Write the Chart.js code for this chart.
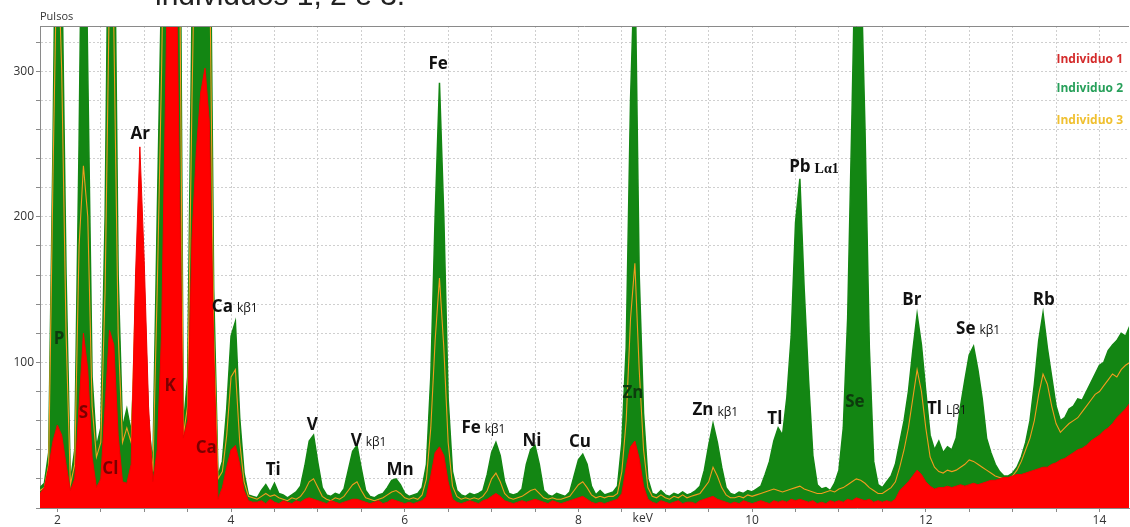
<!DOCTYPE html>
<html lang="pt">
<head>
<meta charset="UTF-8">
<title>Espectro XRF - Individuos 1, 2 e 3</title>
<style>
  body { margin: 0; background: #fff; overflow: hidden; }
  .wrap { position: relative; width: 1130px; height: 527px; }
  #caption { position: absolute; left: 155px; top: -22px; font: 30px "Liberation Sans", Arial, sans-serif; color: #222; white-space: nowrap; }
  canvas { position: absolute; left: 0; top: 0; }
</style>
</head>
<body>
<div class="wrap">
  <canvas id="spectrum" width="1130" height="527"></canvas>
  <div id="caption">individuos 1, 2 e 3.</div>
</div>

<script src="https://cdn.jsdelivr.net/npm/chart.js@4.4.0/dist/chart.umd.min.js"></script>
<script>
// channel grid of the spectrum (keV)
const kevStart = 1.8;
const kevStep = 0.05;

// counts, one row = 0.5 keV
const individuo2 = [
  14, 17, 38, 250, 520, 380, 160, 18, 40, 250,      // 1.80
  520, 300, 90, 42, 55, 200, 480, 450, 160, 55,     // 2.30
  68, 52, 115, 205, 150, 58, 30, 200, 360, 600,     // 2.80
  680, 650, 560, 55, 90, 340, 550, 650, 620, 480,   // 3.30
  150, 22, 32, 68, 118, 128, 62, 24, 9, 8,          // 3.80
  7, 12, 16, 11, 17, 10, 9, 7, 9, 11,               // 4.30
  15, 29, 46, 50, 31, 14, 9, 8, 10, 9,              // 4.80
  13, 26, 39, 43, 27, 12, 8, 7, 9, 10,              // 5.30
  14, 19, 20, 16, 10, 8, 9, 10, 14, 30,             // 5.80
  90, 200, 292, 200, 75, 25, 12, 9, 8, 10,          // 6.30
  9, 10, 12, 23, 38, 45, 36, 18, 10, 9,             // 6.80
  10, 13, 30, 40, 43, 30, 12, 9, 8, 10,             // 7.30
  9, 8, 11, 22, 33, 37, 30, 15, 9, 12,              // 7.80
  9, 10, 11, 15, 45, 110, 280, 380, 160, 65,        // 8.30
  20, 10, 9, 12, 9, 8, 10, 9, 11, 9,                // 8.80
  10, 12, 15, 26, 43, 58, 45, 28, 14, 10,           // 9.30
  9, 11, 10, 12, 11, 13, 15, 23, 32, 46,            // 9.80
  55, 50, 76, 118, 196, 226, 150, 88, 36, 16,       // 10.30
  13, 14, 12, 17, 26, 55, 130, 270, 420, 380,       // 10.80
  260, 110, 32, 16, 14, 18, 22, 30, 45, 60,         // 11.30
  80, 108, 133, 112, 80, 50, 40, 46, 38, 42,        // 11.80
  40, 48, 70, 88, 105, 111, 95, 75, 48, 38,         // 12.30
  30, 25, 22, 22, 24, 28, 35, 45, 60, 85,           // 12.80
  115, 134, 110, 90, 70, 60, 62, 68, 70, 75,        // 13.30
  74, 80, 86, 92, 98, 100, 108, 112, 115, 120,      // 13.80
  118, 125                                          // 14.30
];

const individuo3 = [
  12, 14, 30, 230, 400, 300, 120, 16, 30, 180,
  235, 200, 70, 35, 45, 150, 360, 330, 120, 45,
  55, 45, 150, 220, 150, 55, 25, 150, 300, 500,
  560, 520, 440, 50, 70, 280, 450, 560, 520, 400,
  120, 20, 25, 50, 90, 95, 45, 18, 8, 7,
  6, 8, 10, 8, 9, 7, 6, 5, 7, 6,
  8, 12, 18, 20, 14, 8, 6, 5, 7, 6,
  8, 12, 16, 18, 12, 7, 6, 5, 6, 7,
  9, 11, 12, 10, 7, 6, 7, 6, 9, 20,
  55, 115, 158, 110, 45, 15, 8, 6, 7, 6,
  7, 6, 8, 12, 20, 24, 18, 10, 7, 6,
  7, 8, 10, 12, 13, 10, 7, 6, 7, 6,
  6, 7, 8, 12, 16, 18, 14, 9, 7, 8,
  7, 8, 8, 10, 25, 60, 130, 168, 95, 40,
  14, 8, 7, 9, 7, 6, 8, 7, 9, 7,
  8, 9, 10, 14, 18, 28, 22, 14, 9, 7,
  7, 8, 7, 9, 8, 9, 10, 11, 12, 13,
  12, 11, 12, 13, 14, 15, 13, 12, 11, 10,
  10, 11, 12, 11, 13, 14, 16, 18, 20, 19,
  17, 14, 12, 10, 10, 12, 14, 18, 28, 40,
  55, 75, 95, 80, 55, 35, 28, 25, 24, 26,
  25, 26, 28, 30, 33, 32, 30, 28, 26, 24,
  22, 21, 20, 20, 22, 26, 32, 40, 48, 60,
  78, 92, 85, 70, 58, 52, 55, 58, 60, 62,
  66, 70, 74, 78, 80, 84, 88, 92, 90, 95,
  98, 100
];

const individuo1 = [
  10, 14, 28, 46, 57, 50, 30, 12, 20, 70,
  120, 95, 35, 14, 20, 70, 122, 112, 50, 18,
  17, 30, 160, 248, 170, 70, 18, 40, 120, 300,
  480, 450, 250, 48, 60, 185, 245, 285, 302, 265,
  110, 6, 14, 28, 40, 43, 30, 12, 5, 4,
  4, 5, 3, 6, 4, 3, 5, 4, 3, 5,
  4, 6, 7, 6, 5, 4, 3, 5, 4, 3,
  4, 5, 6, 6, 5, 4, 3, 4, 5, 3,
  4, 6, 5, 4, 3, 4, 3, 4, 5, 8,
  22, 38, 42, 36, 18, 6, 4, 3, 4, 5,
  4, 3, 5, 6, 8, 10, 8, 5, 4, 3,
  4, 5, 4, 5, 6, 5, 4, 3, 5, 4,
  3, 4, 5, 6, 7, 8, 6, 4, 3, 4,
  3, 4, 5, 6, 10, 28, 42, 46, 34, 15,
  6, 4, 3, 5, 4, 3, 4, 5, 3, 4,
  4, 3, 5, 6, 7, 8, 6, 5, 4, 3,
  4, 3, 5, 4, 3, 4, 5, 4, 3, 5,
  4, 5, 4, 6, 5, 6, 5, 4, 5, 3,
  4, 3, 5, 4, 5, 4, 6, 5, 7, 6,
  5, 6, 4, 5, 4, 5, 4, 6, 12, 15,
  18, 22, 26, 23, 18, 15, 13, 14, 14, 15,
  14, 15, 16, 15, 16, 17, 16, 17, 18, 19,
  19, 20, 21, 21, 22, 23, 23, 24, 25, 26,
  27, 28, 28, 30, 31, 33, 34, 36, 38, 40,
  41, 43, 46, 48, 50, 53, 55, 58, 62, 65,
  68, 72
];

// element labels: text, subscript, keV, counts
const peakNames = ['P', 'S', 'Cl', 'Ar', 'K', 'Ca', 'Ca', 'Ti', 'V', 'V', 'Mn', 'Fe', 'Fe', 'Ni', 'Cu', 'Zn', 'Zn', 'Tl', 'Pb', 'Se', 'Br', 'Tl', 'Se', 'Rb'];
const peakSubs  = ['', '', '', '', '', '', 'kβ1', '', '', 'kβ1', '', '', 'kβ1', '', '', '', 'kβ1', '', 'Lα1', '', '', 'Lβ1', 'kβ1', ''];
const peakKev   = [2.02, 2.30, 2.61, 2.955, 3.30, 3.715, 3.90, 4.486, 4.934, 5.441, 5.947, 6.384, 6.764, 7.466, 8.018, 8.628, 9.434, 10.262, 10.55, 11.183, 11.839, 12.10, 12.46, 13.358];
const peakCount = [116, 65, 27, 257, 84, 41, 138, 26, 57, 46, 26, 305, 55, 46, 45, 79, 67, 61, 234, 73, 143, 68, 123, 143];
const peakColor = ['#0d3a0d', '#7a0000', '#7a0000', '#111', '#7a0000', '#7a0000', '#111', '#111', '#111', '#111', '#111', '#111', '#111', '#111', '#111', '#0d3a0d', '#111', '#111', '#111', '#0d3a0d', '#111', '#111', '#111', '#111'];

const legendNames  = ['Individuo 1', 'Individuo 2', 'Individuo 3'];
const legendColors = ['#d42b2b', '#27a05a', '#f0c030'];
const legendCounts = [308, 288, 266];

function toPoints(counts) {
  return counts.map((c, i) => ({ x: +(kevStart + i * kevStep).toFixed(2), y: c }));
}

const labelPlugin = {
  id: 'peakLabels',
  afterDatasetsDraw(chart) {
    const { ctx, chartArea, scales: { x, y } } = chart;
    ctx.save();

    // top frame line
    ctx.strokeStyle = '#8a8a8a';
    ctx.lineWidth = 1;
    ctx.beginPath();
    ctx.moveTo(chartArea.left, chartArea.top + 0.5);
    ctx.lineTo(chartArea.right, chartArea.top + 0.5);
    ctx.stroke();

    ctx.textBaseline = 'middle';
    peakNames.forEach((name, i) => {
      const px = x.getPixelForValue(peakKev[i]);
      const py = y.getPixelForValue(peakCount[i]);
      ctx.font = 'bold 17px "Open Sans", sans-serif';
      ctx.fillStyle = peakColor[i];
      ctx.textAlign = 'center';
      ctx.fillText(name, px, py);
      if (peakSubs[i]) {
        const w = ctx.measureText(name).width;
        ctx.textAlign = 'left';
        if (peakSubs[i] === 'Lα1') {
          ctx.font = 'bold 14px "Liberation Serif", serif';
        } else {
          ctx.font = '12px "Open Sans", sans-serif';
        }
        ctx.fillText(peakSubs[i], px + w / 2 + 4, py + 2);
      }
    });

    // legend as plain coloured text
    ctx.font = 'bold 12px "Open Sans", sans-serif';
    ctx.textAlign = 'right';
    legendNames.forEach((name, i) => {
      ctx.fillStyle = legendColors[i];
      ctx.fillText(name, chartArea.right - 6, y.getPixelForValue(legendCounts[i]));
    });

    // axis captions
    ctx.fillStyle = '#333';
    ctx.font = '11px "Open Sans", sans-serif';
    ctx.textAlign = 'left';
    ctx.fillText('Pulsos', chartArea.left, chartArea.top - 9);
    ctx.font = '12px "Open Sans", sans-serif';
    ctx.textAlign = 'center';
    ctx.fillText('keV', x.getPixelForValue(8.74), chartArea.bottom + 11);

    ctx.restore();
  }
};

new Chart(document.getElementById('spectrum'), {
  type: 'line',
  data: {
    datasets: [
      {
        label: 'Individuo 1',
        data: toPoints(individuo1),
        backgroundColor: '#ff0000',
        borderColor: '#f20000',
        borderWidth: 1,
        fill: 'origin',
        order: 1
      },
      {
        label: 'Individuo 3',
        data: toPoints(individuo3),
        borderColor: '#f39c1f',
        borderWidth: 1.1,
        fill: false,
        order: 2
      },
      {
        label: 'Individuo 2',
        data: toPoints(individuo2),
        backgroundColor: '#138613',
        borderColor: '#138613',
        borderWidth: 1.5,
        fill: 'origin',
        order: 3
      }
    ]
  },
  options: {
    responsive: false,
    animation: false,
    layout: { padding: { top: 26, right: 1, left: 0, bottom: 0 } },
    elements: { point: { radius: 0 }, line: { tension: 0 } },
    plugins: { legend: { display: false }, tooltip: { enabled: false } },
    scales: {
      x: {
        type: 'linear',
        min: 1.8,
        max: 14.34,
        afterFit: s => { s.height = 19; },
        grid: { color: '#cfcfcf', tickColor: '#8a8a8a', tickLength: 4, tickBorderDash: [] },
        border: { color: '#8a8a8a', dash: [2, 2] },
        ticks: {
          stepSize: 0.5,
          autoSkip: false,
          includeBounds: false,
          maxRotation: 0,
          padding: 1,
          color: '#333',
          font: { family: '"Open Sans", sans-serif', size: 12 },
          callback: v => (v % 2 === 0 ? v : '')
        }
      },
      y: {
        min: 0,
        max: 331,
        afterFit: s => { s.width = 40; },
        grid: { color: '#cfcfcf', tickColor: '#8a8a8a', tickLength: 4, tickBorderDash: [] },
        border: { color: '#8a8a8a', dash: [2, 2] },
        ticks: {
          stepSize: 20,
          includeBounds: false,
          padding: 2,
          color: '#333',
          font: { family: '"Open Sans", sans-serif', size: 12 },
          callback: v => (v % 100 === 0 && v > 0 ? v : '')
        }
      }
    }
  },
  plugins: [labelPlugin]
});
</script>
</body>
</html>
